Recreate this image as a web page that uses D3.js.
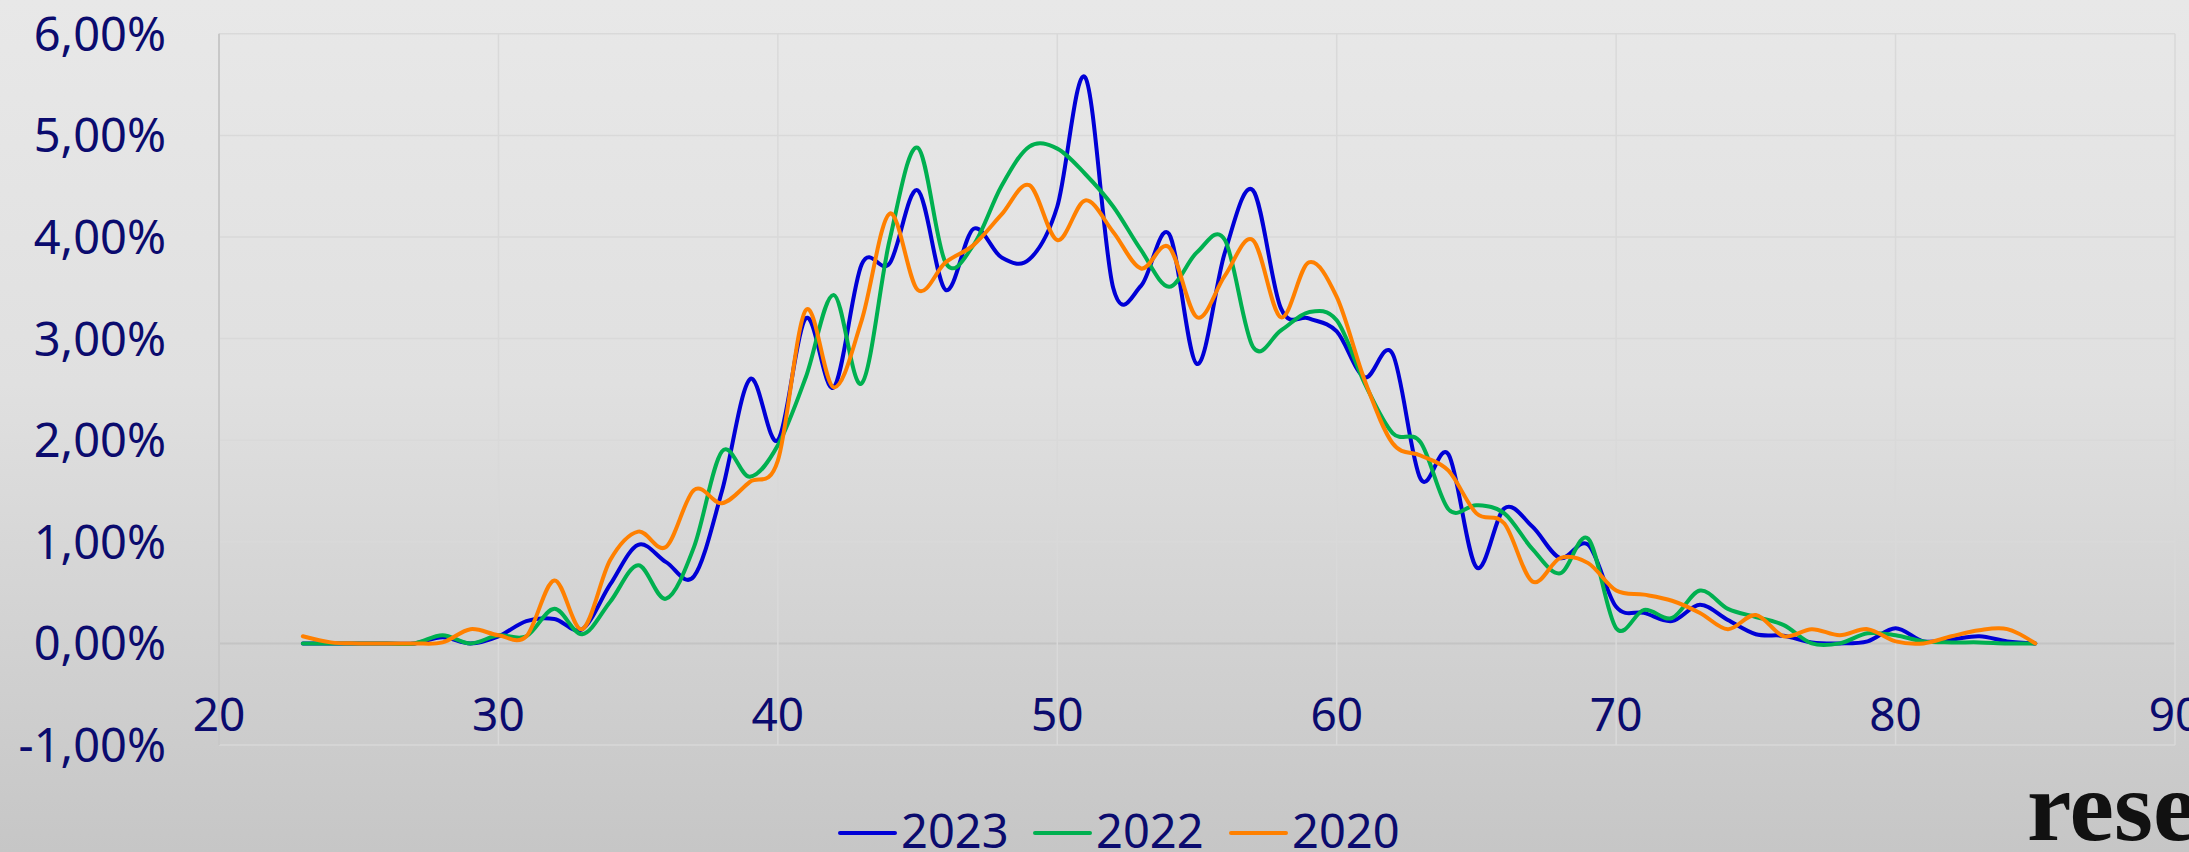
<!DOCTYPE html>
<html>
<head>
<meta charset="utf-8">
<script src="https://cdn.jsdelivr.net/npm/d3@7"></script>
<style>
  html, body { margin: 0; padding: 0; overflow: hidden; }
  svg { display: block; }
</style>
</head>
<body>
<svg id="chart"></svg>
<script>
var width = 2189,
    height = 852;

// ages 23..85
var ages = d3.range(23, 86);

var s2023 = [0, 0, 0, 0, 0, 0.06, 0.0, 0.07, 0.22, 0.24,
  0.14, 0.58, 0.97, 0.8, 0.66, 1.5, 2.6, 2.0, 3.2, 2.52,
  3.73, 3.74, 4.46, 3.48, 4.08, 3.8, 3.78, 4.3, 5.57, 3.5,
  3.52, 4.03, 2.75, 3.85, 4.46, 3.3, 3.2, 3.07, 2.62, 2.85,
  1.62, 1.86, 0.75, 1.33, 1.15, 0.84, 0.97, 0.36, 0.30, 0.22,
  0.38, 0.23, 0.09, 0.075, 0.01, 0.0, 0.02, 0.15, 0.02, 0.04,
  0.07, 0.02, 0];

var s2022 = [0, 0, 0, 0, 0, 0.08, 0.0, 0.08, 0.07, 0.34,
  0.09, 0.41, 0.77, 0.44, 0.95, 1.89, 1.64, 1.95, 2.62, 3.43,
  2.56, 3.97, 4.88, 3.75, 3.92, 4.5, 4.89, 4.87, 4.62, 4.3,
  3.87, 3.51, 3.85, 3.97, 2.92, 3.08, 3.26, 3.18, 2.56, 2.07,
  1.98, 1.32, 1.36, 1.28, 0.93, 0.69, 1.03, 0.15, 0.33, 0.25,
  0.52, 0.34, 0.26, 0.18, 0.0, 0.0, 0.1, 0.08, 0.02, 0.01,
  0.01, 0.0, 0.0];

var s2020 = [0.07, 0.01, 0, 0, 0, 0.01, 0.14, 0.08, 0.07, 0.62,
  0.14, 0.82, 1.10, 0.95, 1.51, 1.38, 1.59, 1.8, 3.28, 2.52,
  3.18, 4.23, 3.48, 3.75, 3.92, 4.22, 4.51, 3.97, 4.36, 4.05,
  3.69, 3.9, 3.21, 3.62, 3.97, 3.21, 3.75, 3.41, 2.59, 1.97,
  1.85, 1.70, 1.28, 1.18, 0.61, 0.84, 0.79, 0.52, 0.48, 0.42,
  0.3, 0.14, 0.28, 0.07, 0.14, 0.08, 0.14, 0.02, 0.0, 0.07,
  0.13, 0.14, 0.0];

var seriesNames = ['2023', '2022', '2020'];
var seriesColors = ['#0000d6', '#00b050', '#ff8000'];
var xTicks = [20, 30, 40, 50, 60, 70, 80, 90];
var yTicks = [-1, 0, 1, 2, 3, 4, 5, 6];

var series = [s2023, s2022, s2020].map(function (vals, i) {
    return {
        name: seriesNames[i],
        color: seriesColors[i],
        values: vals.map(function (v, j) { return { x: ages[j], y: v }; })
    };
});

var svg = d3.select('#chart')
    .attr('width', width)
    .attr('height', height);

// background gradient
var grad = svg.append('defs').append('linearGradient')
    .attr('id', 'bg')
    .attr('x1', 0).attr('y1', 0).attr('x2', 0).attr('y2', 1);
grad.append('stop').attr('offset', '0%').attr('stop-color', '#e8e8e8');
grad.append('stop').attr('offset', '45%').attr('stop-color', '#e0e0e0');
grad.append('stop').attr('offset', '100%').attr('stop-color', '#c6c6c6');

svg.append('rect')
    .attr('width', width)
    .attr('height', height)
    .attr('fill', 'url(#bg)');

var x = d3.scaleLinear().domain([20, 90]).range([219, 2175]);
var y = d3.scaleLinear().domain([-1, 6]).range([745, 33.8]);

var textColor = '#0b0b6e';
var font = "'Noto Sans', sans-serif";

// grid
svg.append('g')
    .selectAll('line')
    .data(yTicks)
    .enter()
    .append('line')
    .attr('x1', x(20))
    .attr('x2', x(90))
    .attr('y1', d => y(d))
    .attr('y2', d => y(d))
    .attr('stroke', d => d === 0 ? '#c4c4c4' : '#d9d9d9')
    .attr('stroke-width', d => d === 0 ? 2 : 1.5);

svg.append('g')
    .selectAll('line')
    .data(xTicks)
    .enter()
    .append('line')
    .attr('x1', d => x(d))
    .attr('x2', d => x(d))
    .attr('y1', y(6))
    .attr('y2', y(-1))
    .attr('stroke', d => d === 20 ? '#c8c8c8' : '#d9d9d9')
    .attr('stroke-width', d => d === 20 ? 2 : 1.5);

// y labels (comma decimal, plain hyphen for minus)
svg.append('g')
    .selectAll('text')
    .data(yTicks)
    .enter()
    .append('text')
    .attr('x', 166)
    .attr('y', d => y(d))
    .attr('dy', '0.36em')
    .attr('text-anchor', 'end')
    .attr('font-family', font)
    .attr('font-size', 47)
    .attr('fill', textColor)
    .text(d => d.toFixed(2).replace('.', ',') + '%');

// x labels
svg.append('g')
    .selectAll('text')
    .data(xTicks)
    .enter()
    .append('text')
    .attr('x', d => x(d))
    .attr('y', 731)
    .attr('text-anchor', 'middle')
    .attr('font-family', font)
    .attr('font-size', 46)
    .attr('fill', textColor)
    .text(d => d);

// lines
var line = d3.line()
    .x(d => x(d.x))
    .y(d => y(d.y))
    .curve(d3.curveCardinal.tension(0));

svg.append('g')
    .selectAll('path')
    .data(series)
    .enter()
    .append('path')
    .attr('d', d => line(d.values))
    .attr('fill', 'none')
    .attr('stroke', d => d.color)
    .attr('stroke-width', 4)
    .attr('stroke-linejoin', 'round')
    .attr('stroke-linecap', 'round');

// legend
var legendX = [840, 1035, 1231];
var legend = svg.append('g')
    .selectAll('g')
    .data(series)
    .enter()
    .append('g')
    .attr('transform', (d, i) => 'translate(' + legendX[i] + ',0)');

legend.append('line')
    .attr('x1', 0)
    .attr('x2', 55)
    .attr('y1', 833)
    .attr('y2', 833)
    .attr('stroke', d => d.color)
    .attr('stroke-width', 4)
    .attr('stroke-linecap', 'round');

legend.append('text')
    .attr('x', 61)
    .attr('y', 848)
    .attr('font-family', font)
    .attr('font-size', 47)
    .attr('fill', textColor)
    .text(d => d.name);

// watermark
svg.append('text')
    .attr('x', 2027)
    .attr('y', 840)
    .attr('font-family', "'Liberation Serif', serif")
    .attr('font-weight', 'bold')
    .attr('font-size', 100)
    .attr('fill', '#111')
    .text('rese');
</script>
</body>
</html>
